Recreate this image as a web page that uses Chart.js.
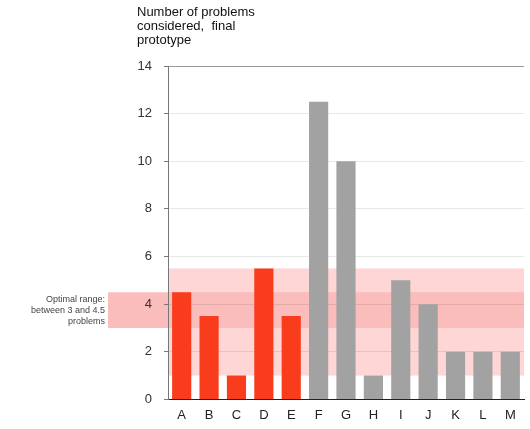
<!DOCTYPE html>
<html>
<head>
<meta charset="utf-8">
<script src="https://cdn.jsdelivr.net/npm/chart.js@4"></script>
<style>
  html, body { margin: 0; padding: 0; background: #fff; }
  #wrap { width: 530px; height: 429px; }
</style>
</head>
<body>
<div id="wrap"><canvas id="chart"></canvas></div>
<script>
const labels = ['A', 'B', 'C', 'D', 'E', 'F', 'G', 'H', 'I', 'J', 'K', 'L', 'M'];
const problems = [4.5, 3.5, 1, 5.5, 3.5, 12.5, 10, 1, 5, 4, 2, 2, 2];
const barColors = ['#f83c1c', '#f83c1c', '#f83c1c', '#f83c1c', '#f83c1c',
    '#a2a2a2', '#a2a2a2', '#a2a2a2', '#a2a2a2', '#a2a2a2', '#a2a2a2', '#a2a2a2', '#a2a2a2'];
const yTicks = [0, 2, 4, 6, 8, 10, 12, 14];
const wideBand = [1, 5.5];
const optimalBand = [3, 4.5];
const titleLines = ['Number of problems', 'considered,  final', 'prototype'];
const noteLines = ['Optimal range:', 'between 3 and 4.5', 'problems'];

const font = '"Liberation Sans", Arial, sans-serif';

// pink ranges behind everything, plus the note on the left
const bands = {
    id: 'bands',
    beforeDraw(c) {
        const ctx = c.ctx, y = c.scales.y, a = c.chartArea;
        ctx.save();
        ctx.fillStyle = '#ffd6d6';
        ctx.fillRect(a.left + 1, y.getPixelForValue(wideBand[1]), a.right - a.left - 1,
            y.getPixelForValue(wideBand[0]) - y.getPixelForValue(wideBand[1]));
        ctx.fillStyle = '#fbbcbc';
        const top = y.getPixelForValue(optimalBand[1]);
        const bot = y.getPixelForValue(optimalBand[0]);
        ctx.fillRect(108, top, a.right - 108, bot - top);
        ctx.restore();
    },
    afterDraw(c) {
        const ctx = c.ctx, y = c.scales.y;
        ctx.save();
        // title
        ctx.fillStyle = '#111';
        ctx.font = '13px ' + font;
        ctx.textAlign = 'left';
        ctx.textBaseline = 'top';
        titleLines.forEach((t, i) => ctx.fillText(t, 137, 6 + i * 14));
        // note
        ctx.fillStyle = '#444';
        ctx.font = '9px ' + font;
        ctx.textAlign = 'right';
        ctx.textBaseline = 'middle';
        const mid = y.getPixelForValue((optimalBand[0] + optimalBand[1]) / 2);
        noteLines.forEach((t, i) => ctx.fillText(t, 105, mid + (i - 1) * 11));
        ctx.restore();
    }
};

new Chart(document.querySelector('#chart'), {
    type: 'bar',
    data: {
        labels: labels,
        datasets: [{
            data: problems,
            backgroundColor: barColors,
            categoryPercentage: 0.7,
            barPercentage: 1
        }]
    },
    options: {
        responsive: true,
        maintainAspectRatio: false,
        animation: false,
        layout: { padding: { left: 113, top: 66, right: 6, bottom: 6 } },
        plugins: { legend: { display: false }, tooltip: { enabled: false } },
        scales: {
            x: {
                grid: { display: false },
                border: { color: '#222', width: 1 },
                ticks: { color: '#222', font: { family: font, size: 13 }, padding: 0 }
            },
            y: {
                min: 0,
                max: 14,
                afterFit(scale) { scale.width = 55; },
                afterBuildTicks(scale) { scale.ticks = yTicks.map(v => ({ value: v })); },
                grid: {
                    color: ctx => ctx.tick && ctx.tick.value === 14 ? '#999' : 'rgba(0,0,0,0.09)',
                    drawTicks: true,
                    tickLength: 4,
                    tickColor: '#777'
                },
                border: { color: '#777', width: 1 },
                ticks: { color: '#333', font: { family: font, size: 13 }, padding: 12 }
            }
        }
    },
    plugins: [bands]
});
</script>
</body>
</html>
